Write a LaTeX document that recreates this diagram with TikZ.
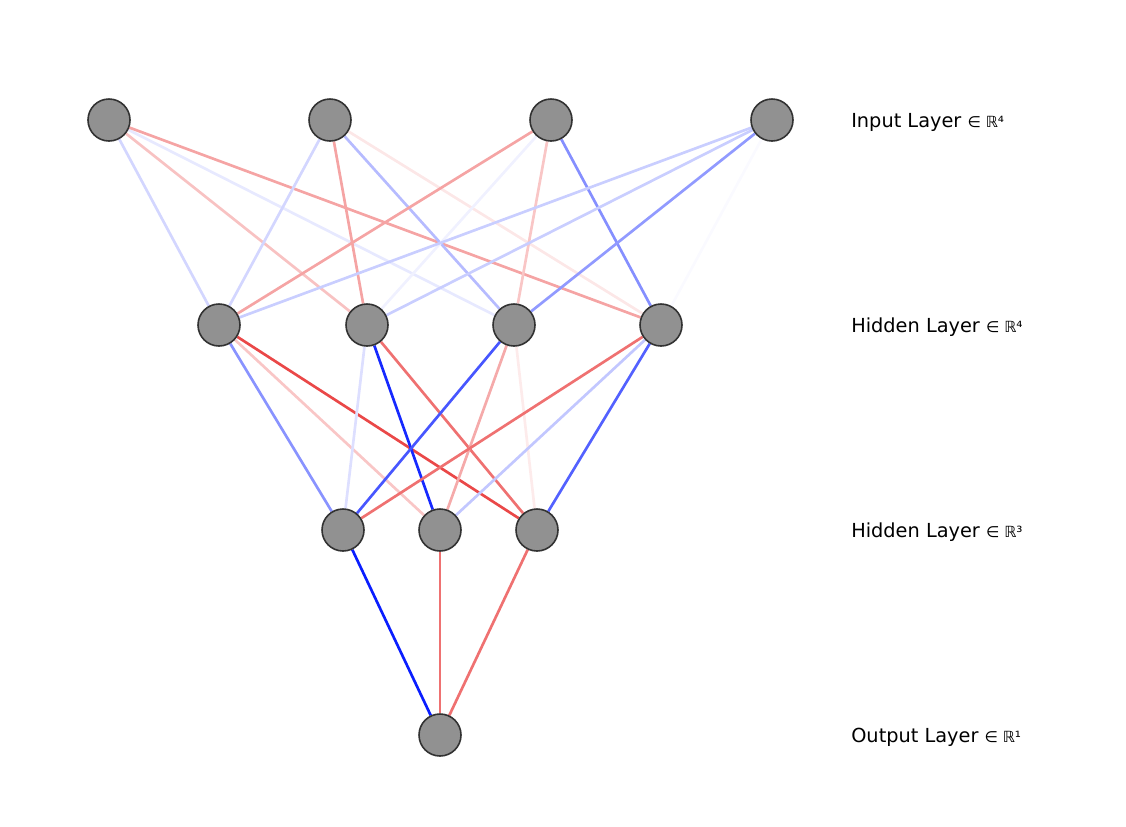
\documentclass[tikz,border=0pt]{standalone}
\usepackage{fontspec}
\setmainfont{DejaVu Sans}
\newfontfamily\symfont{DejaVu Sans}
\usetikzlibrary{backgrounds}
\definecolor{pos}{RGB}{232,52,52}
\definecolor{neg}{RGB}{10,30,255}
\definecolor{nodefill}{RGB}{145,145,145}
\definecolor{nodeline}{RGB}{50,50,50}
\tikzset{
  neuron/.style={circle, fill=nodefill, draw=nodeline, line width=1.2pt, minimum size=31.5pt, inner sep=0pt},
  edge/.style={line width=2pt},
  lab/.style={anchor=base west, font=\fontsize{14.5}{17}\selectfont, inner sep=0pt}
}
\begin{document}
\begin{tikzpicture}[x=0.75pt, y=-0.75pt]
\useasboundingbox (0,0) rectangle (1126,826);
% input layer
\node[neuron] (i1) at (109,120) {};
\node[neuron] (i2) at (330,120) {};
\node[neuron] (i3) at (551,120) {};
\node[neuron] (i4) at (772,120) {};
% hidden 1
\node[neuron] (h1) at (219,325) {};
\node[neuron] (h2) at (367,325) {};
\node[neuron] (h3) at (514,325) {};
\node[neuron] (h4) at (661,325) {};
% hidden 2
\node[neuron] (g1) at (343,530) {};
\node[neuron] (g2) at (440,530) {};
\node[neuron] (g3) at (537,530) {};
% output
\node[neuron] (o1) at (440,735) {};
% labels
\node[lab] (l1) at (851,127) {Input Layer {\symfont\fontsize{11.5}{14}\selectfont ∈ ℝ⁴}};
\node[lab] (l2) at (851,332) {Hidden Layer {\symfont\fontsize{11.5}{14}\selectfont ∈ ℝ⁴}};
\node[lab] (l3) at (851,537) {Hidden Layer {\symfont\fontsize{11.5}{14}\selectfont ∈ ℝ³}};
\node[lab] (l4) at (851,742) {Output Layer {\symfont\fontsize{11.5}{14}\selectfont ∈ ℝ¹}};
\begin{pgfonlayer}{background}
% input -> hidden 1
\draw[edge, neg!18] (i1) -- (h1);
\draw[edge, pos!30] (i1) -- (h2);
\draw[edge, neg!10] (i1) -- (h3);
\draw[edge, pos!45] (i1) -- (h4);
\draw[edge, neg!18] (i2) -- (h1);
\draw[edge, pos!45] (i2) -- (h2);
\draw[edge, neg!30] (i2) -- (h3);
\draw[edge, pos!12] (i2) -- (h4);
\draw[edge, pos!45] (i3) -- (h1);
\draw[edge, neg!6] (i3) -- (h2);
\draw[edge, pos!28] (i3) -- (h3);
\draw[edge, neg!50] (i3) -- (h4);
\draw[edge, neg!22] (i4) -- (h1);
\draw[edge, neg!22] (i4) -- (h2);
\draw[edge, neg!45] (i4) -- (h3);
\draw[edge, neg!2] (i4) -- (h4);
% hidden 1 -> hidden 2
\draw[edge, neg!48] (h1) -- (g1);
\draw[edge, pos!28] (h1) -- (g2);
\draw[edge, pos!90] (h1) -- (g3);
\draw[edge, neg!14] (h2) -- (g1);
\draw[edge, neg!95] (h2) -- (g2);
\draw[edge, pos!70] (h2) -- (g3);
\draw[edge, neg!75] (h3) -- (g1);
\draw[edge, pos!42] (h3) -- (g2);
\draw[edge, pos!10] (h3) -- (g3);
\draw[edge, pos!70] (h4) -- (g1);
\draw[edge, neg!25] (h4) -- (g2);
\draw[edge, neg!70] (h4) -- (g3);
% hidden 2 -> output
\draw[edge, neg] (g1) -- (o1);
\draw[edge, pos!70] (g2) -- (o1);
\draw[edge, pos!70] (g3) -- (o1);
\end{pgfonlayer}
\end{tikzpicture}
\end{document}
